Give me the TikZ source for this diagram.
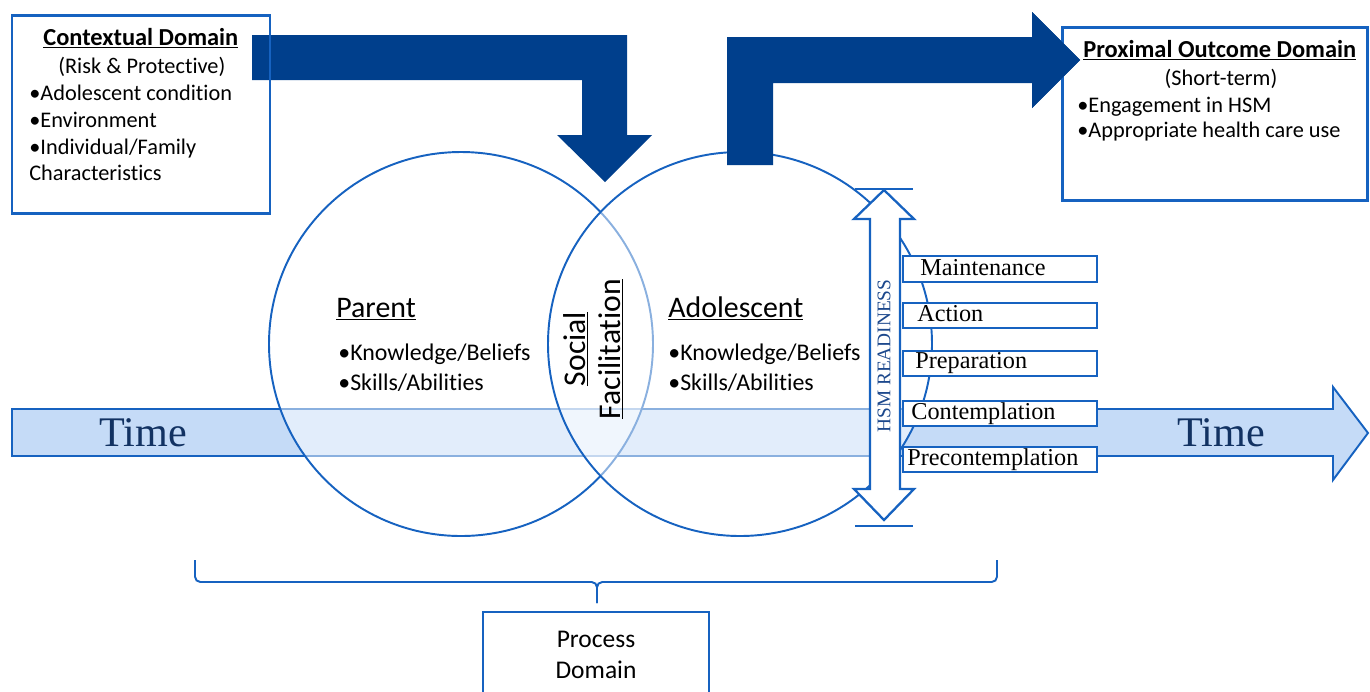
\documentclass[tikz,border=0pt]{standalone}
\usepackage{fontspec}
\setmainfont{Carlito}[Ligatures=NoCommon]
\newfontfamily\serifface{Liberation Serif}
\usetikzlibrary{fit}
\definecolor{lineblue}{RGB}{22,98,192}
\definecolor{navyarrow}{RGB}{0,63,140}
\definecolor{timefill}{RGB}{197,219,247}
\definecolor{timetext}{RGB}{18,50,98}
\definecolor{readytext}{RGB}{28,72,140}

\begin{document}
\begin{tikzpicture}[x=0.02cm,y=-0.02cm,
  domainbox/.style={draw=lineblue,line width=1.7pt,inner sep=0pt},
  stagebox/.style={draw=lineblue,line width=1.3pt,fill=white,inner sep=0pt},
  personcircle/.style={draw=lineblue,line width=1.1pt,fill=white,fill opacity=0.5,draw opacity=1},
  bigarrow/.style={fill=navyarrow},
  titletxt/.style={font=\bfseries\fontsize{13.9}{16}\selectfont,inner sep=0pt,anchor=base west},
  bodytxt/.style={font=\fontsize{12.7}{15}\selectfont,inner sep=0pt,anchor=base west},
  headtxt/.style={font=\fontsize{17}{20}\selectfont,inner sep=0pt,anchor=base west},
  itemtxt/.style={font=\fontsize{13.6}{16}\selectfont,inner sep=0pt,anchor=base west},
  socialtxt/.style={font=\fontsize{18}{21}\selectfont,inner sep=0pt,rotate=90,anchor=base},
  timetxt/.style={font=\serifface\fontsize{24}{27}\selectfont,text=timetext,inner sep=0pt},
  stagetxt/.style={font=\serifface\fontsize{13.8}{16}\selectfont,inner sep=0pt,anchor=base west},
  readytxt/.style={font=\serifface\fontsize{11}{13}\selectfont,text=readytext,inner sep=0pt,rotate=90},
  proctxt/.style={font=\fontsize{14.5}{17}\selectfont,inner sep=0pt,anchor=base},
  bracestyle/.style={draw=lineblue,line width=1.1pt,rounded corners=3pt}]
\useasboundingbox (0,0) rectangle (1370,691);

% time arrow running across the whole figure
\draw[fill=timefill,draw=lineblue,line width=1.1pt]
  (12,409) -- (1333,409) -- (1333,387) -- (1368,433) -- (1333,480)
  -- (1333,456) -- (12,456) -- cycle;
\node[timetxt] (timeL) at (143,433) {Time};
\node[timetxt] (timeR) at (1221,433) {Time};

% parent and adolescent circles
\path[personcircle] (461,344) circle[radius=192];
\coordinate (parentc) at (461,344);
\path[personcircle] (740,344) circle[radius=192];
\coordinate (adolc) at (740,344);

% thick arrows into and out of the process
\path[bigarrow] (252,35) -- (627,35) -- (627,135) -- (652,135) -- (605,182)
  -- (557,135) -- (582,135) -- (582,80) -- (252,80) -- cycle;
\path[bigarrow] (727,165) -- (727,37) -- (1032,37) -- (1032,12) -- (1080,60)
  -- (1032,108) -- (1032,83) -- (773,83) -- (773,165) -- cycle;

% contextual domain
\node[domainbox,fit={(12,15) (270,213)}] (ctxbox) {};
\node[titletxt] (ctxtitle) at (43,45) {\underline{Contextual Domain}};
\node[bodytxt] (ctxsub) at (58,73) {(Risk \& Protective)};
\node[bodytxt] (ctx1) at (29,100) {•Adolescent condition};
\node[bodytxt] (ctx2) at (29,127) {•Environment};
\node[bodytxt] (ctx3) at (29,154) {•Individual/Family};
\node[bodytxt] (ctx4) at (29,180) {Characteristics};

% proximal outcome domain
\node[domainbox,fit={(1062,27) (1367,200)}] (outbox) {};
\path[bigarrow] (1032,12) -- (1080,60) -- (1032,108) -- cycle;
\node[titletxt] (outtitle) at (1083,57) {\underline{Proximal Outcome Domain}};
\node[bodytxt,anchor=base] (outsub) at (1221,85) {(Short-term)};
\node[bodytxt] (out1) at (1077,112) {•Engagement in HSM};
\node[bodytxt] (out2) at (1077,137) {•Appropriate health care use};

% circle contents
\node[headtxt] (parent) at (336,317) {\underline{Parent}};
\node[itemtxt] (parent1) at (338,360) {•Knowledge/Beliefs};
\node[itemtxt] (parent2) at (338,390) {•Skills/Abilities};
\node[headtxt] (adol) at (668,317) {\underline{Adolescent}};
\node[itemtxt] (adol1) at (668,360) {•Knowledge/Beliefs};
\node[itemtxt] (adol2) at (668,390) {•Skills/Abilities};
\node[socialtxt] (social) at (585,349) {\underline{Social}};
\node[socialtxt] (facil) at (620,349) {\underline{Facilitation}};

% readiness double arrow
\draw[fill=white,draw=lineblue,line width=1.3pt,line join=miter]
  (884,190) -- (914,219) -- (900,219) -- (900,489) -- (914,489) -- (884,520)
  -- (854,489) -- (870,489) -- (870,219) -- (854,219) -- cycle;
\draw[lineblue,line width=1.3pt] (855,189) -- (913,189);
\draw[lineblue,line width=1.3pt] (855,526) -- (913,526);
\node[readytxt] (ready) at (884,356) {HSM READINESS};

% stages of readiness
\node[stagebox,fit={(903,256) (1097,282)}] (s1) {};
\node[stagebox,fit={(903,303) (1097,328)}] (s2) {};
\node[stagebox,fit={(903,351) (1097,376)}] (s3) {};
\node[stagebox,fit={(903,401) (1097,426)}] (s4) {};
\node[stagebox,fit={(903,447) (1097,472)}] (s5) {};
\node[stagetxt] (t1) at (920,275) {Maintenance};
\node[stagetxt] (t2) at (917,321) {Action};
\node[stagetxt] (t3) at (915,368) {Preparation};
\node[stagetxt] (t4) at (911,419) {Contemplation};
\node[stagetxt] (t5) at (907,465) {Precontemplation};

% brace and process domain
\coordinate (braceL) at (195,560);
\coordinate (braceR) at (997,560);
\coordinate (braceM) at (597,582);
\coordinate (braceTip) at (597,603);
\draw[bracestyle] (braceL) |- (braceM) -- (braceTip);
\draw[bracestyle] (braceR) |- (braceM) -- (braceTip);
\draw[lineblue,line width=1.5pt] (483,695) -- (483,612) -- (709,612) -- (709,695);
\node[proctxt] (proc1) at (596,647) {Process};
\node[proctxt] (proc2) at (596,678) {Domain};
\end{tikzpicture}
\end{document}
